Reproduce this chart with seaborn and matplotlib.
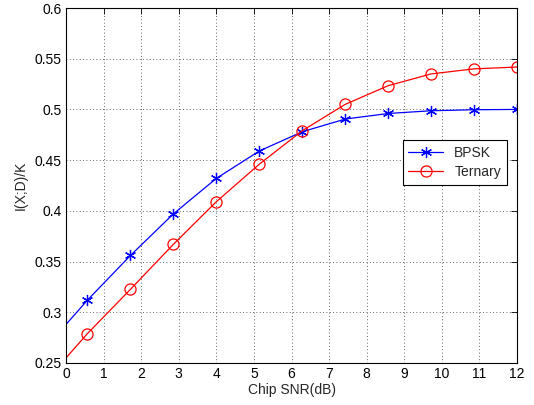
import numpy as np
import pandas as pd
import seaborn as sns
import matplotlib
matplotlib.use("Agg")
import matplotlib.pyplot as plt

snr = [0.0, 0.571, 1.714, 2.857, 4.0, 5.143, 6.286, 7.429, 8.571, 9.714, 10.857, 12.0]
bpsk = [0.288, 0.312, 0.356, 0.397, 0.432, 0.459, 0.478, 0.4905, 0.496, 0.4987, 0.4997, 0.5]
ternary = [0.255, 0.279, 0.3226, 0.367, 0.409, 0.446, 0.479, 0.505, 0.5234, 0.535, 0.540, 0.5418]
xticks = list(range(0, 13))
yticks = [0.25, 0.3, 0.35, 0.4, 0.45, 0.5, 0.55, 0.6]

sns.set_style("white")
plt.rcParams['font.family'] = ['Liberation Sans', 'DejaVu Sans']

fig = plt.figure(figsize=(5.34, 4.05), dpi=100)
ax = fig.add_axes([66/534, 1-363/405, 451/534, 355/405])

df = pd.DataFrame({"snr": snr, "BPSK": bpsk, "Ternary": ternary})
sns.lineplot(data=df, x="snr", y="BPSK", ax=ax, color="blue", lw=0.9,
             marker=(6, 2, 0), markersize=8, markeredgewidth=0.9,
             markeredgecolor="blue", markevery=slice(1, None), label="BPSK")
sns.lineplot(data=df, x="snr", y="Ternary", ax=ax, color="red", lw=0.9,
             marker="o", markersize=8, markerfacecolor="none", markeredgewidth=0.9,
             markeredgecolor="red", markevery=slice(1, None), label="Ternary")

ax.set_xlim(0, 12)
ax.set_ylim(0.25, 0.6)
ax.set_xticks(xticks)
ax.set_yticks(yticks)
ax.set_xticklabels([str(t) for t in xticks])
ax.set_yticklabels([f"{t:g}" for t in yticks])
ax.tick_params(direction="in", length=4, width=0.6, top=True, right=True,
               labelsize=10, colors="black", pad=3)
ax.grid(True, linestyle=(0, (1, 3)), color="black", linewidth=0.6, alpha=0.8)
for s in ax.spines.values():
    s.set_visible(True)
    s.set_color("black")
    s.set_linewidth(0.8)
ax.set_xlabel("Chip SNR(dB)", fontsize=10, labelpad=1)
ax.set_ylabel("I(X;D)/K", fontsize=10, labelpad=5)

leg = ax.legend(loc="upper left", bbox_to_anchor=(0.747, 0.628), fontsize=10,
                frameon=True, fancybox=False, edgecolor="black", framealpha=1,
                borderpad=0.4, handlelength=2.5, labelspacing=0.4, borderaxespad=0)
leg.get_frame().set_linewidth(0.8)

fig.savefig("out.png", dpi=100)
